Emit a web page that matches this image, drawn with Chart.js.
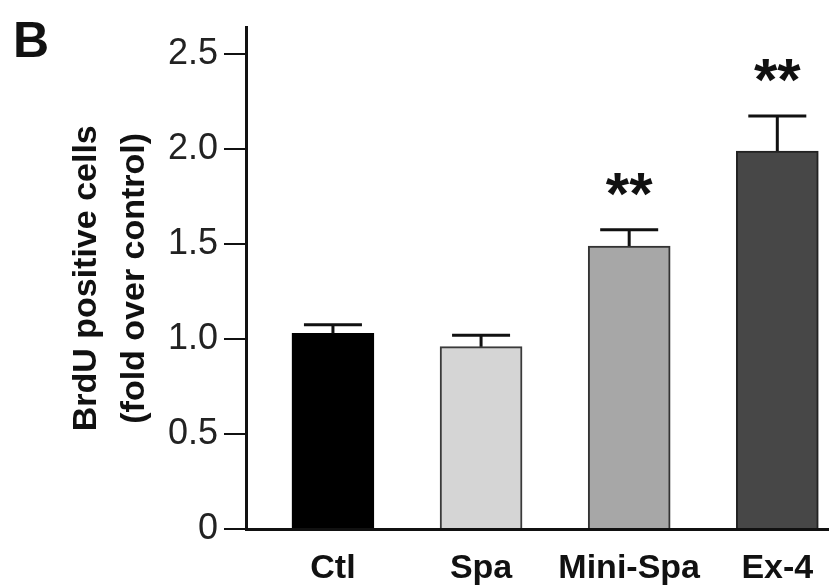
<!DOCTYPE html>
<html>
<head>
<meta charset="utf-8">
<script src="https://cdn.jsdelivr.net/npm/chart.js@4/dist/chart.umd.min.js"></script>
<style>
  body { margin: 0; background: #fff; }
  #wrap { width: 829px; height: 585px; position: relative; }
</style>
</head>
<body>
<div id="wrap"><canvas id="chart"></canvas></div>
<script>
// Data
const categories = ['Ctl', 'Spa', 'Mini-Spa', 'Ex-4'];
const values = [1.03, 0.96, 1.49, 1.99];
const errors = [0.045, 0.06, 0.085, 0.185];
const significance = ['', '', '**', '**'];
const yTicks = [0, 0.5, 1.0, 1.5, 2.0, 2.5];

const fillColors = ['#000000', '#d5d5d5', '#a7a7a7', '#474747'];
const edgeColors = ['#000000', '#3a3a3a', '#333333', '#222222'];

const sans = '"Liberation Sans", Arial, Helvetica, sans-serif';

// Error bars (upper only) and significance stars
const errorBarPlugin = {
  id: 'errorBars',
  afterDatasetsDraw(chart) {
    const { ctx, scales: { x, y } } = chart;
    ctx.save();
    ctx.strokeStyle = '#111';
    ctx.lineWidth = 3;
    values.forEach((v, i) => {
      const px = x.getPixelForValue(i);
      const top = y.getPixelForValue(v + errors[i]);
      ctx.beginPath();
      ctx.moveTo(px, y.getPixelForValue(v));
      ctx.lineTo(px, top);
      ctx.moveTo(px - 29, top);
      ctx.lineTo(px + 29, top);
      ctx.stroke();

      if (significance[i]) {
        ctx.fillStyle = '#111';
        ctx.font = 'bold 60px ' + sans;
        ctx.textAlign = 'center';
        ctx.textBaseline = 'middle';
        ctx.fillText(significance[i], px, top - 32);
      }
    });
    ctx.restore();
  }
};

// Panel letter
const panelLabel = {
  id: 'panelLabel',
  afterDraw(chart) {
    const ctx = chart.ctx;
    ctx.save();
    ctx.fillStyle = '#111';
    ctx.font = 'bold 50px ' + sans;
    ctx.textAlign = 'left';
    ctx.textBaseline = 'alphabetic';
    ctx.fillText('B', 13, 57);
    ctx.restore();
  }
};

new Chart(document.getElementById('chart'), {
  type: 'bar',
  data: {
    datasets: [{
      data: values.map((v, i) => ({ x: i, y: v })),
      backgroundColor: fillColors,
      borderColor: edgeColors,
      borderWidth: 2,
      barThickness: 82
    }]
  },
  options: {
    responsive: true,
    maintainAspectRatio: false,
    animation: false,
    layout: { padding: { top: 23, right: 0, left: 0, bottom: 0 } },
    plugins: {
      legend: { display: false },
      tooltip: { enabled: false }
    },
    scales: {
      x: {
        type: 'linear',
        offset: false,
        min: -0.587,
        max: 3.349,
        afterBuildTicks: s => { s.ticks = categories.map((c, i) => ({ value: i })); },
        afterFit: s => { s.height = 56; },
        grid: { display: false, offset: false },
        border: { color: '#111', width: 3 },
        ticks: {
          callback: v => categories[v],
          color: '#111',
          padding: 11,
          maxRotation: 0,
          autoSkip: false,
          font: { family: sans, size: 34, weight: 'bold' }
        }
      },
      y: {
        min: 0,
        max: 2.64,
        afterBuildTicks: s => { s.ticks = yTicks.map(v => ({ value: v })); },
        afterFit: s => { s.width = 246; },
        grid: { drawOnChartArea: false, tickLength: 22, color: '#111', lineWidth: 2 },
        border: { color: '#111', width: 3 },
        ticks: {
          callback: v => v === 0 ? '0' : v.toFixed(1),
          color: '#222',
          padding: 6,
          font: { family: sans, size: 36 }
        },
        title: {
          display: true,
          text: ['BrdU positive cells', '(fold over control)'],
          color: '#111',
          padding: { top: 63, bottom: 0 },
          font: { family: sans, size: 34, weight: 'bold', lineHeight: 1.4 }
        }
      }
    }
  },
  plugins: [errorBarPlugin, panelLabel]
});
</script>
</body>
</html>
